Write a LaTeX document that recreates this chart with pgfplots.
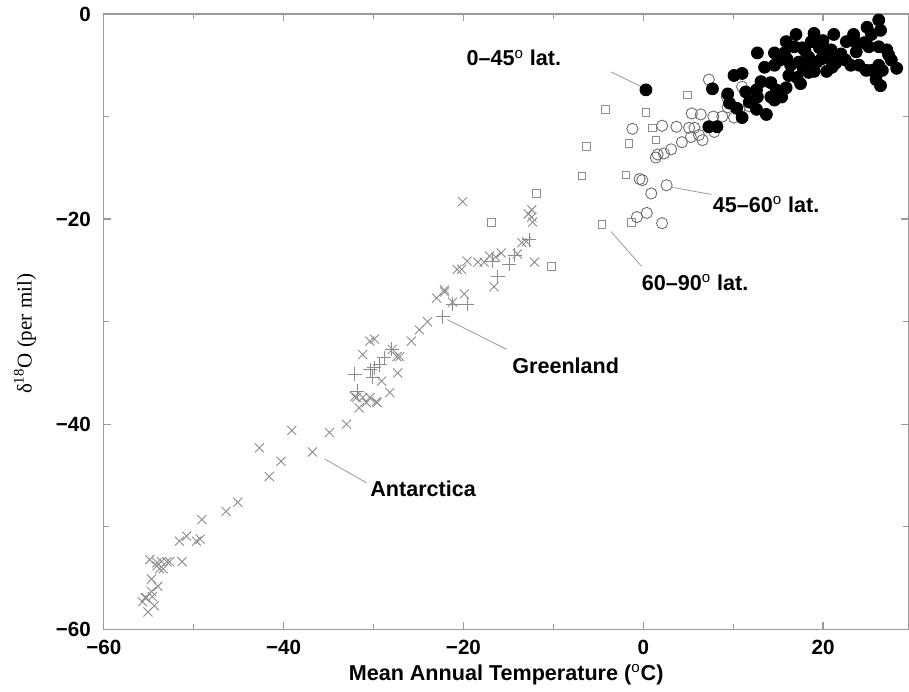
\documentclass[border=0pt]{standalone}
\usepackage{fontspec}
\setmainfont{Liberation Sans}
\newfontfamily\serif{Liberation Serif}
\usepackage{pgfplots}
\pgfplotsset{compat=1.18}

\definecolor{axgray}{HTML}{9A9A9A}
\definecolor{crossgray}{HTML}{8C8C8C}
\definecolor{sqgray}{HTML}{8E8E8E}
\definecolor{ringgray}{HTML}{6E6E6E}
\newcommand{\dg}{\textsuperscript{\mdseries o}}

\begin{document}
\begin{tikzpicture}
% frame of the whole picture (909 x 692 px at 0.5pt per px)
\path (-52pt,-31pt) rectangle (402.5pt,315pt);
\begin{axis}[
    at={(0,0)}, anchor=south west,
    x=4.5pt, y=5.135pt,
    xmin=-60, xmax=29.5,
    ymin=-60, ymax=0,
    axis line style={axgray, line width=0.6pt},
    tick style={axgray, line width=0.6pt},
    tick align=inside,
    major tick length=3.5pt, minor tick length=2.5pt,
    xtick={-60,-40,-20,0,20},
    xticklabels={−60,−40,−20,0,20},
    minor xtick={-50,-30,-10,10},
    ytick={-60,-40,-20,0},
    yticklabels={−60,−40,−20,0},
    minor ytick={-50,-30,-10},
    ticklabel style={font=\fontsize{10.3}{12}\selectfont\bfseries, text=black},
    xticklabel style={yshift=-2pt},
    yticklabel style={xshift=-3pt},
    xlabel={Mean Annual Temperature (\dg C)},
    xlabel style={font=\fontsize{10.8}{13}\selectfont\bfseries,
        at={(axis description cs:0.5,0)}, anchor=center, yshift=-22.5pt},
    ylabel={{\serif δ\textsuperscript{18}O (per mil)}},
    ylabel style={font=\fontsize{10.5}{12}\selectfont,
        at={(axis description cs:-0.098,0.48)}, anchor=center},
    clip=false,
]
  % Antarctica
  \addplot[only marks, mark=x, mark size=3.2pt, mark options={crossgray, line width=0.45pt}] coordinates {
    (-54.9,-53.2) (-54.1,-53.5) (-53.8,-54.1) (-53.0,-53.4) (-51.3,-53.4)
    (-53.6,-53.4) (-52.7,-53.4) (-54.1,-53.8) (-53.4,-54.1)
    (-54.7,-55.1) (-54.0,-55.8) (-54.7,-56.3) (-55.4,-56.9) (-55.3,-56.9)
    (-54.6,-56.8) (-55.7,-57.3) (-54.4,-57.7) (-55.1,-58.3)
    (-51.6,-51.4) (-50.8,-50.9) (-49.7,-51.4) (-49.3,-51.2) (-49.1,-49.3)
    (-46.4,-48.5) (-45.1,-47.6) (-42.7,-42.3) (-41.6,-45.1) (-40.3,-43.6)
    (-39.1,-40.6) (-36.8,-42.7) (-34.9,-40.8) (-33.0,-40.0)
    (-31.9,-37.4) (-31.6,-38.4) (-30.8,-37.9) (-29.7,-37.8) (-28.2,-36.9)
    (-32.1,-37.3) (-31.2,-37.4) (-30.4,-37.4) (-29.6,-37.9)
    (-31.2,-33.2) (-30.4,-31.9) (-29.9,-31.7) (-29.1,-35.8) (-27.3,-35.0)
    (-27.9,-32.7) (-27.1,-33.4) (-27.4,-33.4) (-25.8,-31.9)
    (-24.9,-30.8) (-24.0,-30.0) (-23.0,-27.7) (-22.1,-27.1) (-21.2,-28.1)
    (-19.9,-27.3) (-22.1,-26.9) (-16.6,-26.6)
    (-20.2,-24.9) (-20.7,-24.9) (-19.6,-24.1) (-18.4,-24.2) (-17.7,-24.2)
    (-17.1,-23.6) (-16.4,-23.7) (-15.8,-23.3) (-14.0,-23.4) (-12.1,-24.2)
    (-13.0,-22.2) (-13.5,-22.3) (-12.4,-19.1) (-12.4,-19.8) (-12.3,-20.3)
    (-12.8,-19.5) (-20.1,-18.3)
  };
  % Greenland
  \addplot[only marks, mark=+, mark size=3.5pt, mark options={crossgray, line width=0.45pt}] coordinates {
    (-28.0,-32.7) (-28.8,-33.5) (-29.3,-34.2) (-29.9,-34.5) (-30.4,-34.7)
    (-32.1,-35.1) (-30.1,-35.4) (-31.8,-36.8)
    (-22.3,-29.5) (-21.2,-28.3) (-19.6,-28.3)
    (-16.2,-25.6) (-16.8,-24.1) (-14.9,-24.4) (-14.3,-23.5) (-12.7,-22.0)
  };
  % 60-90 lat.
  \addplot[only marks, mark=square, mark size=1.9pt, mark options={sqgray, line width=0.45pt}] coordinates {
    (4.9,-7.9) (-4.2,-9.3) (0.3,-9.6) (-6.3,-12.9) (-1.6,-12.6) (1.0,-11.1)
    (1.4,-12.3) (-6.8,-15.8) (-1.9,-15.7) (-11.9,-17.5) (-16.9,-20.3)
    (-4.6,-20.5) (-1.3,-20.3) (-10.2,-24.6)
  };
  % 45-60 lat.
  \addplot[only marks, mark=o, mark size=2.8pt, mark options={ringgray, line width=0.45pt}] coordinates {
    (7.3,-6.4) (-1.2,-11.2) (2.1,-10.9) (3.7,-11.0) (5.4,-9.7) (6.4,-9.8)
    (5.1,-11.1) (5.7,-11.1) (7.8,-10.0) (4.3,-12.5) (5.3,-12.0) (6.6,-12.3)
    (3.1,-13.2) (2.3,-13.6) (1.6,-13.7) (1.4,-14.0) (-0.4,-16.1) (-0.1,-16.2)
    (2.6,-16.7) (0.9,-17.5) (0.4,-19.4) (-0.7,-19.8) (2.1,-20.4) (7.9,-11.5)
    (9.3,-8.1) (9.4,-9.1) (10.7,-9.3) (11.8,-9.0) (8.8,-10.0) (10.1,-10.1)
    (14.0,-6.7) (6.2,-11.8) (11.0,-7.1)
  };
  % 0-45 lat.
  \addplot[only marks, mark=*, mark size=3pt, mark options={black}] coordinates {
    (0.3,-7.4) (7.7,-7.3) (10.1,-6.0) (11.0,-5.8) (9.4,-7.8) (9.6,-8.7)
    (7.3,-11.0) (8.2,-11.0) (11.0,-10.1) (12.6,-9.3) (13.7,-9.8) (11.4,-7.6)
    (13.1,-6.6) (12.6,-7.4) (12.7,-8.1) (14.2,-8.1) (14.8,-7.4) (14.2,-6.7)
    (14.6,-8.4) (15.9,-7.2) (15.4,-8.1) (12.7,-3.8) (14.6,-3.8) (14.6,-5.0)
    (15.9,-2.7) (17.0,-2.0) (15.7,-3.8) (16.4,-5.0) (17.1,-6.2) (17.3,-4.7)
    (17.7,-3.3) (18.7,-2.7) (19.0,-1.9) (18.4,-4.2) (19.3,-4.7) (19.0,-5.6)
    (18.4,-5.7) (19.6,-3.3) (20.1,-3.8) (20.4,-5.6) (20.7,-4.3) (20.9,-3.5)
    (21.2,-2.0) (22.6,-2.7) (23.4,-2.0) (23.7,-2.8) (23.7,-3.7) (24.6,-2.8)
    (24.9,-1.3) (25.4,-2.0) (26.2,-0.6) (26.4,-1.6) (25.1,-3.2) (26.2,-3.2)
    (27.1,-3.5) (27.3,-4.0) (27.6,-4.5) (23.1,-5.0) (24.0,-5.0) (24.8,-5.5)
    (25.4,-5.5) (26.2,-5.0) (26.6,-5.5) (28.2,-5.3) (25.9,-6.4) (26.4,-7.0)
    (21.4,-4.8) (22.0,-3.9) (16.0,-4.4) (17.8,-5.4) (18.0,-3.6)
    (15.2,-4.5) (16.8,-3.2) (18.0,-4.8) (19.8,-4.4) (21.0,-5.2) (17.5,-6.8)
    (20.0,-2.6) (22.5,-4.5) (13.5,-5.2) (16.2,-6.0) (11.8,-8.6) (10.4,-9.2)
  };

  % annotations
  \begin{scope}[every node/.style={font=\fontsize{10.8}{13}\selectfont\bfseries, anchor=west, inner sep=0pt}]
    \draw[axgray, line width=0.4pt] (axis cs:-3.6,-5.65) -- (axis cs:-0.2,-7.1);
    \node at (axis cs:-19.7,-4.3) {0–45\dg\ lat.};
    \draw[axgray, line width=0.4pt] (axis cs:3.2,-16.9) -- (axis cs:7.6,-17.6);
    \node at (axis cs:7.7,-18.6) {45–60\dg\ lat.};
    \draw[axgray, line width=0.4pt] (axis cs:-3.6,-21.2) -- (axis cs:-0.2,-24.6);
    \node at (axis cs:-0.2,-26.2) {60–90\dg\ lat.};
    \draw[axgray, line width=0.4pt] (axis cs:-21.8,-29.8) -- (axis cs:-15.2,-32.7);
    \node at (axis cs:-14.6,-34.3) {Greenland};
    \draw[axgray, line width=0.4pt] (axis cs:-35.4,-43.4) -- (axis cs:-30.8,-45.7);
    \node at (axis cs:-30.4,-46.3) {Antarctica};
  \end{scope}
\end{axis}
\end{tikzpicture}
\end{document}
